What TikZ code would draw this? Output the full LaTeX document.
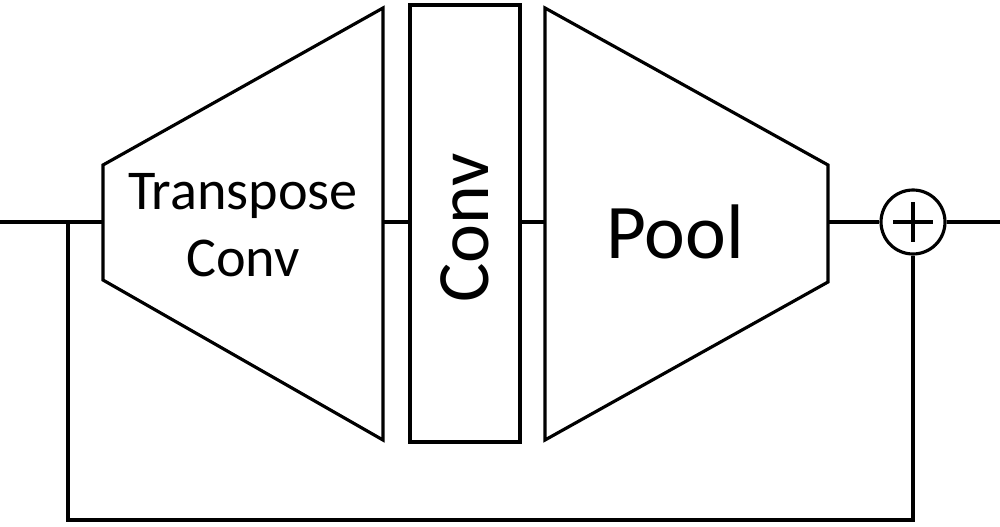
\documentclass[tikz,border=0pt]{standalone}
\usepackage{fontspec}
\setmainfont{Carlito}
\begin{document}
\begin{tikzpicture}[x=0.02cm,y=-0.02cm,line width=1.8pt,
  lbl/.style={align=center,inner sep=0pt}]
  \useasboundingbox (0,0) rectangle (1000,527);
  % blocks
  \draw (103,165) -- (383,8) -- (383,440) -- (103,280) -- cycle;
  \draw (410,5) rectangle (520,442);
  \draw (545,8) -- (828,165) -- (828,282) -- (545,440) -- cycle;
  \node[lbl,font=\fontsize{32}{38}\selectfont] (tconv) at (243,225) {Transpose\\Conv};
  \node[lbl,font=\fontsize{42}{46}\selectfont,rotate=90] (conv) at (465,228) {Conv};
  \node[lbl,font=\fontsize{44}{48}\selectfont] (pool) at (675,232) {Pool};
  \node[draw,circle,inner sep=0pt,minimum size=1.28cm] (sum) at (913,222) {};
  \draw (913,202) -- (913,242) (893,222) -- (933,222);
  % connectors
  \coordinate (in) at (0,222);
  \coordinate (out) at (1000,222);
  \coordinate (split) at (68,222);
  \draw (in) -- (103,222);
  \draw (383,222) -- (410,222);
  \draw (520,222) -- (545,222);
  \draw (828,222) -- (sum);
  \draw (sum) -- (out);
  \draw (split) -- (68,520) -| (sum.south);
\end{tikzpicture}
\end{document}
